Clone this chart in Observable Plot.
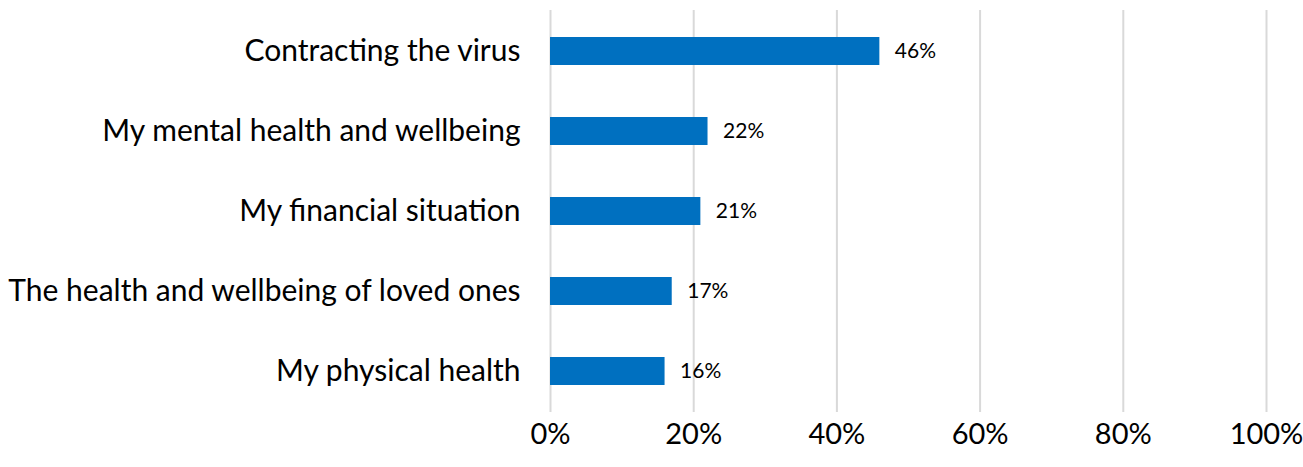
<!DOCTYPE html>
<html><head><meta charset="utf-8">
<script src="https://cdn.jsdelivr.net/npm/d3@7"></script>
<script src="https://cdn.jsdelivr.net/npm/@observablehq/plot@0.6"></script>
<style>body{margin:0;background:#fff;} svg{display:block;}</style>
</head><body><div id="chart"></div>
<script>
const categories = ["Contracting the virus","My mental health and wellbeing","My financial situation","The health and wellbeing of loved ones","My physical health"];
const values = [46, 22, 21, 17, 16];
const ticks = [0, 20, 40, 60, 80, 100];
const data = categories.map((c, i) => ({c, v: values[i]}));
const chart = Plot.plot({
  width: 1303, height: 467,
  marginTop: 10, marginBottom: 55, marginLeft: 550, marginRight: 37,
  style: {fontFamily: "Lato, 'Open Sans', sans-serif", background: "#fff"},
  x: {domain: [0, 100]},
  y: {domain: categories, paddingInner: 0.65, paddingOuter: 0.325},
  marks: [
    Plot.ruleX(ticks, {stroke: "#d9d9d9", strokeWidth: 2}),
    Plot.barX(data, {x: "v", y: "c", fill: "#0070C0"}),
    Plot.text(data, {x: "v", y: "c", text: d => d.v + "%", textAnchor: "start", dx: 15, fontSize: 21, fill: "#000"}),
    Plot.axisX(ticks, {tickSize: 0, tickPadding: 11, fontSize: 29, tickFormat: d => d + "%", label: null, fill: "#000"}),
    Plot.axisY({tickSize: 0, tickPadding: 30, fontSize: 30, label: null, fill: "#000"})
  ]
});
document.getElementById("chart").appendChild(chart);
</script></body></html>
